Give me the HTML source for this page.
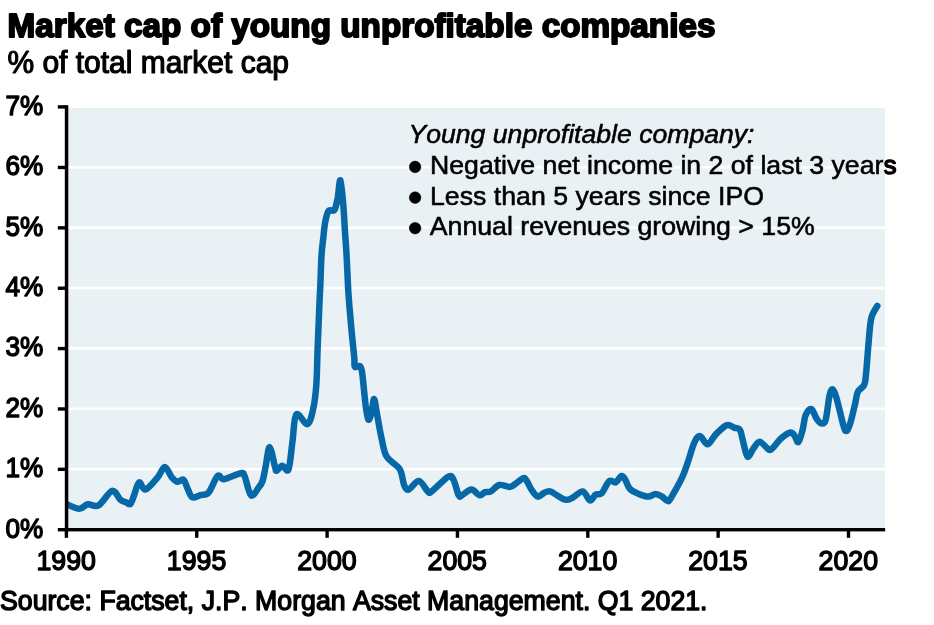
<!DOCTYPE html>
<html><head><meta charset="utf-8"><title>Market cap of young unprofitable companies</title>
<style>html,body{margin:0;padding:0;background:#fff}body{width:934px;height:625px;overflow:hidden;font-family:"Liberation Sans",sans-serif}text{font-variant-ligatures:none;font-kerning:none}</style></head>
<body>
<svg width="934" height="625" viewBox="0 0 934 625" style="display:block">
<rect width="934" height="625" fill="#fff"/>
<rect x="67" y="107.9" width="818" height="421.5" fill="#e9f1f5"/>
<rect x="67" y="467.88" width="818" height="2.6" fill="#fff"/>
<rect x="67" y="407.51" width="818" height="2.6" fill="#fff"/>
<rect x="67" y="347.14" width="818" height="2.6" fill="#fff"/>
<rect x="67" y="286.77" width="818" height="2.6" fill="#fff"/>
<rect x="67" y="226.40" width="818" height="2.6" fill="#fff"/>
<rect x="67" y="166.03" width="818" height="2.6" fill="#fff"/>
<clipPath id="pl"><rect x="66" y="100" width="830" height="430"/></clipPath>
<path clip-path="url(#pl)" d="M66.0 503.9C68.2 504.7 75.7 508.7 79.3 508.8C82.9 508.9 84.4 504.9 87.6 504.3C90.8 503.7 94.5 507.6 98.6 505.3C102.7 503.1 108.5 491.7 112.1 490.8C115.7 489.9 118.1 497.9 120.4 499.8C122.7 501.7 124.3 501.6 126.0 502.3C127.7 503.0 129.1 505.0 130.4 503.9C131.7 502.8 132.6 499.1 134.0 495.5C135.4 491.9 137.2 483.4 139.1 482.4C141.0 481.4 142.4 490.4 145.5 489.5C148.6 488.6 154.5 481.1 157.7 477.3C160.9 473.6 162.5 467.0 164.8 467.0C167.2 467.0 169.7 474.8 171.8 477.3C174.0 479.8 175.8 481.4 177.7 481.8C179.6 482.2 181.8 478.4 183.5 479.8C185.2 481.2 186.7 487.1 188.2 490.0C189.7 492.9 190.2 496.4 192.3 497.3C194.4 498.2 197.8 495.9 200.5 495.1C203.2 494.3 205.8 495.9 208.6 492.7C211.4 489.5 215.0 478.2 217.6 476.0C220.2 473.8 220.2 479.7 224.0 479.2C227.8 478.7 237.3 473.7 240.7 473.2C244.1 472.7 242.9 472.3 244.6 476.0C246.3 479.7 248.7 493.4 251.0 495.3C253.3 497.2 256.8 489.8 258.7 487.4C260.6 485.0 261.3 484.7 262.5 481.1C263.7 477.5 264.6 471.4 265.8 465.7C267.0 460.0 268.1 446.9 269.6 447.1C271.2 447.3 273.9 463.2 275.1 467.1C276.3 471.1 275.5 471.0 276.7 470.8C277.9 470.6 280.2 466.0 282.2 465.8C284.2 465.6 286.8 473.5 288.5 469.4C290.2 465.3 291.2 450.6 292.5 441.4C293.8 432.2 293.8 417.3 296.3 414.4C298.8 411.5 304.5 425.0 307.3 424.1C310.1 423.2 311.6 415.8 313.1 409.3C314.6 402.8 315.6 395.1 316.3 385.0C317.1 374.9 317.1 362.1 317.6 348.8C318.1 335.5 319.0 315.2 319.4 305.0C319.8 294.8 319.8 296.0 320.2 287.8C320.6 279.6 321.0 264.2 321.5 255.7C322.0 247.2 322.8 242.7 323.4 237.0C324.0 231.3 324.4 226.1 325.3 221.7C326.2 217.3 327.1 212.7 328.6 210.8C330.1 208.9 332.8 212.1 334.3 210.1C335.8 208.1 336.6 203.6 337.6 198.6C338.6 193.6 339.4 179.1 340.4 180.2C341.3 181.3 342.5 195.9 343.3 205.0C344.1 214.1 344.6 226.6 345.2 235.0C345.8 243.4 346.1 246.9 346.6 255.7C347.1 264.5 347.7 279.6 348.1 287.8C348.6 296.0 348.7 297.6 349.3 305.0C349.9 312.4 350.9 323.3 351.7 332.1C352.5 340.9 353.8 352.0 354.3 357.8C354.8 363.6 353.9 365.4 354.9 366.8C355.8 368.2 358.8 365.3 360.0 366.2C361.2 367.1 361.4 368.9 362.0 372.0C362.6 375.1 362.9 379.2 363.5 385.0C364.1 390.8 365.0 400.9 365.8 406.7C366.6 412.5 367.4 418.5 368.3 419.6C369.2 420.7 370.5 416.5 371.5 413.1C372.5 409.7 373.1 398.6 374.1 399.0C375.1 399.4 376.0 409.0 377.3 415.7C378.6 422.4 380.1 432.2 381.7 439.0C383.3 445.8 383.7 451.7 386.7 456.7C389.7 461.7 396.7 464.2 399.6 468.9C402.5 473.6 402.6 481.6 404.1 485.0C405.6 488.4 406.2 490.1 408.6 489.5C411.1 488.9 415.6 480.8 418.8 481.1C422.0 481.4 425.7 489.7 427.8 491.4C429.9 493.1 428.3 493.9 431.7 491.4C435.1 488.9 444.8 478.5 448.4 476.6C452.0 474.7 451.8 476.7 453.5 479.8C455.2 482.9 457.3 492.7 458.7 495.3C460.1 497.9 459.8 496.3 461.9 495.3C464.0 494.3 468.6 489.5 471.5 489.5C474.4 489.5 477.3 494.9 479.6 495.3C481.9 495.7 483.2 492.8 485.1 492.1C487.0 491.5 488.5 492.6 490.9 491.4C493.3 490.2 496.1 485.8 499.3 485.0C502.5 484.2 507.2 487.3 510.2 486.9C513.2 486.5 515.0 483.9 517.3 482.4C519.5 480.9 522.1 478.1 523.7 477.9C525.3 477.7 525.6 479.2 526.9 481.1C528.2 483.0 529.6 486.9 531.4 489.5C533.2 492.1 535.6 496.1 537.8 496.6C539.9 497.1 542.2 493.6 544.3 492.7C546.3 491.8 548.0 491.0 550.1 491.4C552.2 491.8 554.5 493.9 557.1 495.3C559.7 496.7 562.9 499.4 565.5 499.8C568.1 500.2 569.6 499.2 572.5 497.8C575.4 496.4 579.9 491.0 582.8 491.4C585.7 491.8 587.8 499.9 589.9 500.4C592.0 500.9 593.8 495.8 595.7 494.6C597.7 493.4 599.3 495.6 601.6 493.3C603.9 491.1 606.9 482.9 609.3 481.1C611.6 479.3 613.7 483.2 615.7 482.4C617.7 481.5 619.9 476.4 621.5 476.0C623.1 475.6 623.9 477.7 625.3 479.8C626.7 481.9 627.5 486.4 629.8 488.8C632.0 491.2 635.7 492.7 638.8 494.0C641.9 495.3 645.7 496.6 648.5 496.6C651.3 496.6 653.4 494.0 655.6 494.0C657.9 494.0 660.0 495.4 662.0 496.6C664.0 497.8 666.3 500.9 667.8 501.1C669.3 501.3 668.6 501.8 671.0 497.8C673.4 493.8 679.4 483.4 682.3 477.2C685.2 471.0 686.4 466.2 688.4 460.5C690.4 454.8 692.2 447.3 694.1 443.2C696.0 439.1 697.6 435.8 699.9 436.0C702.1 436.2 704.9 444.6 707.6 444.3C710.3 444.0 712.8 437.3 716.0 434.1C719.2 430.9 723.9 426.2 726.9 425.1C729.9 424.0 731.9 426.9 734.0 427.6C736.1 428.4 738.3 427.4 739.8 429.6C741.3 431.9 741.7 436.6 743.0 441.1C744.3 445.6 745.8 455.3 747.5 456.6C749.2 457.9 751.3 451.3 753.3 448.8C755.3 446.3 757.1 441.7 759.7 441.8C762.3 441.9 766.6 448.4 768.7 449.5C770.8 450.6 770.4 450.1 772.5 448.2C774.6 446.3 778.2 440.9 781.2 438.3C784.2 435.7 788.2 432.9 790.4 432.5C792.6 432.1 793.3 434.2 794.6 435.8C795.9 437.4 797.1 443.1 798.4 442.2C799.7 441.3 801.3 434.9 802.5 430.4C803.7 425.9 804.2 418.5 805.7 415.0C807.2 411.5 809.7 408.6 811.5 409.2C813.3 409.8 815.0 416.4 816.6 418.8C818.2 421.2 819.6 423.1 821.1 423.3C822.6 423.5 824.2 424.7 825.6 420.1C827.0 415.5 828.3 400.8 829.5 395.7C830.7 390.6 831.5 388.9 832.7 389.3C833.9 389.7 834.9 392.5 836.6 398.3C838.3 404.1 841.4 418.5 843.0 424.0C844.6 429.5 845.0 431.1 846.2 431.1C847.4 431.1 848.5 428.6 850.0 424.0C851.5 419.4 853.9 408.8 855.2 403.4C856.5 398.0 856.3 395.0 857.8 391.9C859.3 388.8 862.8 387.9 864.2 384.8C865.6 381.7 865.5 379.1 866.1 373.0C866.8 366.9 867.4 356.3 868.1 348.5C868.8 340.7 869.5 331.5 870.1 326.0C870.8 320.5 870.8 319.1 872.0 315.7C873.2 312.3 876.4 307.5 877.3 305.9" fill="none" stroke="#0668a7" stroke-width="6.5" stroke-linecap="round" stroke-linejoin="round"/>
<rect x="64.8" y="105.2" width="3.5" height="426.2" fill="#000"/>
<rect x="64.9" y="528" width="820.3" height="3.4" fill="#000"/>
<rect x="57.8" y="528.00" width="8" height="3.4" fill="#000"/>
<rect x="57.8" y="467.63" width="8" height="3.4" fill="#000"/>
<rect x="57.8" y="407.26" width="8" height="3.4" fill="#000"/>
<rect x="57.8" y="346.89" width="8" height="3.4" fill="#000"/>
<rect x="57.8" y="286.52" width="8" height="3.4" fill="#000"/>
<rect x="57.8" y="226.15" width="8" height="3.4" fill="#000"/>
<rect x="57.8" y="165.78" width="8" height="3.4" fill="#000"/>
<rect x="57.8" y="105.20" width="8" height="3.4" fill="#000"/>
<rect x="64.70" y="529" width="3.4" height="8.8" fill="#000"/>
<rect x="195.05" y="529" width="3.4" height="8.8" fill="#000"/>
<rect x="325.40" y="529" width="3.4" height="8.8" fill="#000"/>
<rect x="455.75" y="529" width="3.4" height="8.8" fill="#000"/>
<rect x="586.10" y="529" width="3.4" height="8.8" fill="#000"/>
<rect x="716.45" y="529" width="3.4" height="8.8" fill="#000"/>
<rect x="846.80" y="529" width="3.4" height="8.8" fill="#000"/>
<clipPath id="p"><rect x="68" y="108" width="817" height="420"/></clipPath><g clip-path="url(#p)" style="filter:contrast(1)" stroke="#e9f1f5" fill="#e9f1f5" stroke-width="3.5" stroke-linejoin="round"><text x="408.5" y="143.3" font-family="Liberation Sans, sans-serif" font-size="25.6" font-style="italic" textLength="346" lengthAdjust="spacingAndGlyphs">Young unprofitable company:</text><text x="430" y="173.8" font-family="Liberation Sans, sans-serif" font-size="25.6" textLength="466.7" lengthAdjust="spacingAndGlyphs">Negative net income in 2 of last 3 years</text><text x="430" y="204.5" font-family="Liberation Sans, sans-serif" font-size="25.6" textLength="334" lengthAdjust="spacingAndGlyphs">Less than 5 years since IPO</text><text x="429.8" y="235.1" font-family="Liberation Sans, sans-serif" font-size="25.6" textLength="385" lengthAdjust="spacingAndGlyphs">Annual revenues growing &gt; 15%</text></g>
<g style="filter:grayscale(1)">
<text x="5.4" y="537.60" font-family="Liberation Sans, sans-serif" font-size="28" textLength="37.8" lengthAdjust="spacingAndGlyphs" stroke="#000" stroke-width="1.4" stroke-linejoin="round">0%</text>
<text x="5.4" y="477.23" font-family="Liberation Sans, sans-serif" font-size="28" textLength="37.8" lengthAdjust="spacingAndGlyphs" stroke="#000" stroke-width="1.4" stroke-linejoin="round">1%</text>
<text x="5.4" y="416.86" font-family="Liberation Sans, sans-serif" font-size="28" textLength="37.8" lengthAdjust="spacingAndGlyphs" stroke="#000" stroke-width="1.4" stroke-linejoin="round">2%</text>
<text x="5.4" y="356.49" font-family="Liberation Sans, sans-serif" font-size="28" textLength="37.8" lengthAdjust="spacingAndGlyphs" stroke="#000" stroke-width="1.4" stroke-linejoin="round">3%</text>
<text x="5.4" y="296.12" font-family="Liberation Sans, sans-serif" font-size="28" textLength="37.8" lengthAdjust="spacingAndGlyphs" stroke="#000" stroke-width="1.4" stroke-linejoin="round">4%</text>
<text x="5.4" y="235.75" font-family="Liberation Sans, sans-serif" font-size="28" textLength="37.8" lengthAdjust="spacingAndGlyphs" stroke="#000" stroke-width="1.4" stroke-linejoin="round">5%</text>
<text x="5.4" y="175.38" font-family="Liberation Sans, sans-serif" font-size="28" textLength="37.8" lengthAdjust="spacingAndGlyphs" stroke="#000" stroke-width="1.4" stroke-linejoin="round">6%</text>
<text x="5.4" y="114.80" font-family="Liberation Sans, sans-serif" font-size="28" textLength="37.8" lengthAdjust="spacingAndGlyphs" stroke="#000" stroke-width="1.4" stroke-linejoin="round">7%</text>
<text x="66.20" y="569.7" text-anchor="middle" font-family="Liberation Sans, sans-serif" font-size="27.2" textLength="59.4" lengthAdjust="spacingAndGlyphs" stroke="#000" stroke-width="1.4" stroke-linejoin="round">1990</text>
<text x="196.55" y="569.7" text-anchor="middle" font-family="Liberation Sans, sans-serif" font-size="27.2" textLength="59.4" lengthAdjust="spacingAndGlyphs" stroke="#000" stroke-width="1.4" stroke-linejoin="round">1995</text>
<text x="326.90" y="569.7" text-anchor="middle" font-family="Liberation Sans, sans-serif" font-size="27.2" textLength="59.4" lengthAdjust="spacingAndGlyphs" stroke="#000" stroke-width="1.4" stroke-linejoin="round">2000</text>
<text x="457.25" y="569.7" text-anchor="middle" font-family="Liberation Sans, sans-serif" font-size="27.2" textLength="59.4" lengthAdjust="spacingAndGlyphs" stroke="#000" stroke-width="1.4" stroke-linejoin="round">2005</text>
<text x="587.60" y="569.7" text-anchor="middle" font-family="Liberation Sans, sans-serif" font-size="27.2" textLength="59.4" lengthAdjust="spacingAndGlyphs" stroke="#000" stroke-width="1.4" stroke-linejoin="round">2010</text>
<text x="717.95" y="569.7" text-anchor="middle" font-family="Liberation Sans, sans-serif" font-size="27.2" textLength="59.4" lengthAdjust="spacingAndGlyphs" stroke="#000" stroke-width="1.4" stroke-linejoin="round">2015</text>
<text x="848.30" y="569.7" text-anchor="middle" font-family="Liberation Sans, sans-serif" font-size="27.2" textLength="59.4" lengthAdjust="spacingAndGlyphs" stroke="#000" stroke-width="1.4" stroke-linejoin="round">2020</text>
<text x="7.6" y="36.7" font-family="Liberation Sans, sans-serif" font-size="33" font-weight="bold" textLength="707.8" lengthAdjust="spacingAndGlyphs" stroke="#000" stroke-width="1.9" stroke-linejoin="round">Market cap of young unprofitable companies</text>
<text x="7.4" y="72.6" font-family="Liberation Sans, sans-serif" font-size="31" textLength="281.6" lengthAdjust="spacingAndGlyphs" stroke="#000" stroke-width="1.2" stroke-linejoin="round">% of total market cap</text>
<text x="0" y="610.3" font-family="Liberation Sans, sans-serif" font-size="27" textLength="707.5" lengthAdjust="spacingAndGlyphs" stroke="#000" stroke-width="1.4" stroke-linejoin="round">Source: Factset, J.P. Morgan Asset Management. Q1 2021.</text>
<g stroke="#000" stroke-width="0.55" stroke-linejoin="round"><text x="408.5" y="143.3" font-family="Liberation Sans, sans-serif" font-size="25.6" font-style="italic" textLength="346" lengthAdjust="spacingAndGlyphs">Young unprofitable company:</text><text x="430" y="173.8" font-family="Liberation Sans, sans-serif" font-size="25.6" textLength="466.7" lengthAdjust="spacingAndGlyphs">Negative net income in 2 of last 3 years</text><text x="430" y="204.5" font-family="Liberation Sans, sans-serif" font-size="25.6" textLength="334" lengthAdjust="spacingAndGlyphs">Less than 5 years since IPO</text><text x="429.8" y="235.1" font-family="Liberation Sans, sans-serif" font-size="25.6" textLength="385" lengthAdjust="spacingAndGlyphs">Annual revenues growing &gt; 15%</text><circle cx="415.1" cy="166.9" r="5.8" fill="#000"/><circle cx="415.1" cy="197.6" r="5.8" fill="#000"/><circle cx="415.1" cy="228.2" r="5.8" fill="#000"/></g>
<clipPath id="c"><rect x="885.2" y="140" width="49" height="50"/></clipPath>
<g clip-path="url(#c)"><text x="430" y="173.8" font-family="Liberation Sans, sans-serif" font-size="25.6" textLength="466.7" lengthAdjust="spacingAndGlyphs" stroke="#000" stroke-width="1.4" stroke-linejoin="round">Negative net income in 2 of last 3 years</text></g>
</g>
</svg>
</body></html>
